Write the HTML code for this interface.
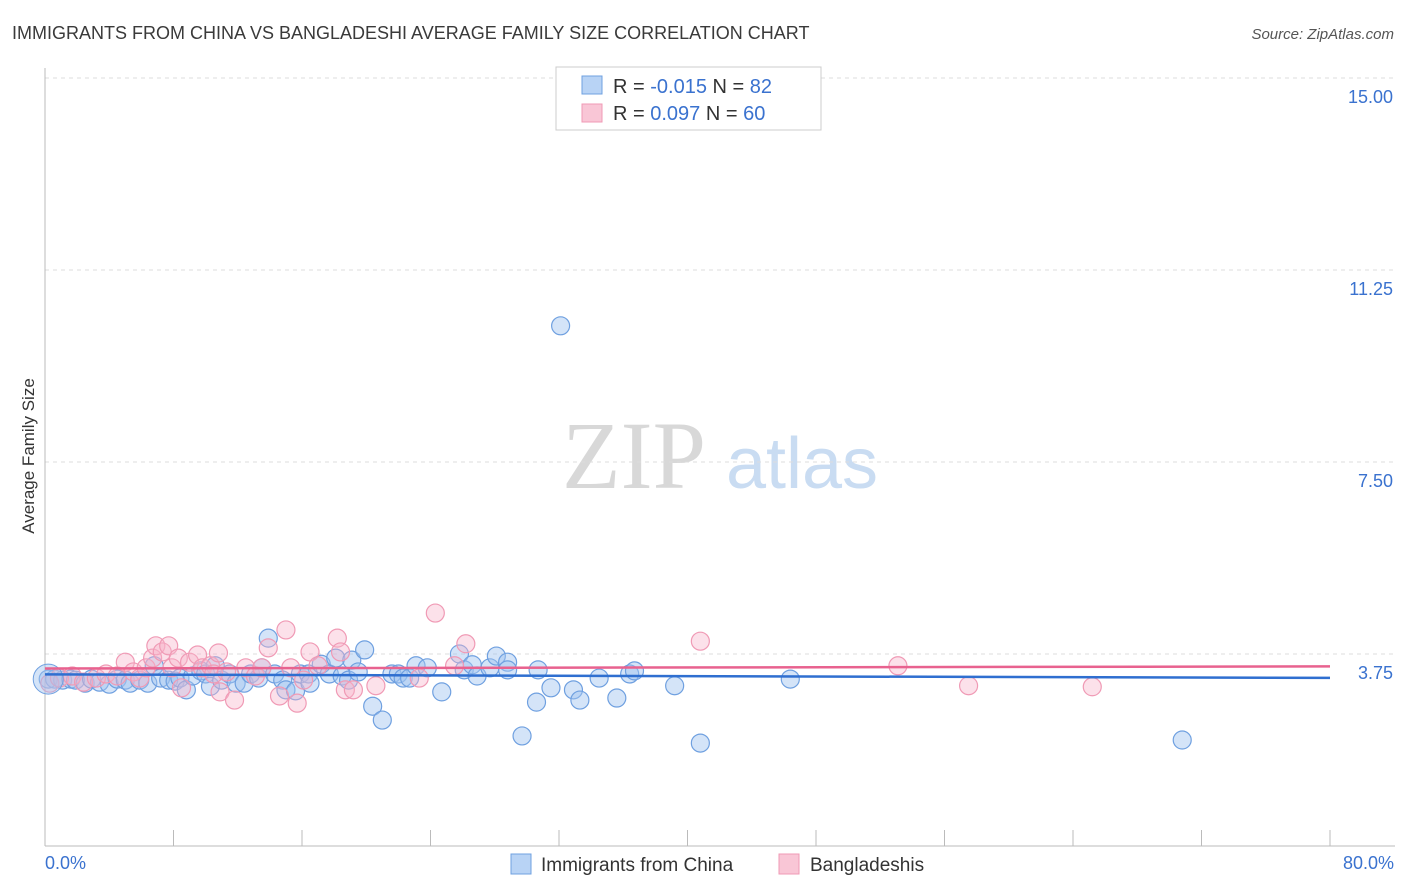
<!DOCTYPE html>
<html><head><meta charset="utf-8"><style>
body{margin:0;background:#fff;font-family:"Liberation Sans",sans-serif}
svg{display:block}
</style></head><body>
<svg id="chart" width="1406" height="892" xmlns="http://www.w3.org/2000/svg" font-family="Liberation Sans, sans-serif">
<text x="12" y="39" font-size="18" fill="#3a3a3a">IMMIGRANTS FROM CHINA VS BANGLADESHI AVERAGE FAMILY SIZE CORRELATION CHART</text>
<text x="1394" y="39" font-size="15" fill="#555" text-anchor="end" font-style="italic">Source: ZipAtlas.com</text>
<g>
<text x="634" y="488" font-size="96" fill="#d8d8d8" text-anchor="middle" font-family="Liberation Serif, serif">ZIP</text>
<text x="802" y="488" font-size="72" fill="#c9dcf2" text-anchor="middle">atlas</text>
</g>
<g id="grid"></g>
<g id="axes"></g>
<g id="marks"></g>
<text transform="translate(34,456) rotate(-90)" font-size="17" fill="#333" text-anchor="middle">Average Family Size</text>
<g>
<rect x="556" y="67" width="265" height="63" fill="#fff" stroke="#ccc"/>
<rect x="582" y="76" width="20" height="18" fill="#b8d3f5" stroke="#6fa0e0"/>
<text x="613" y="93" font-size="20" fill="#333">R = <tspan fill="#3a72cf">-0.015</tspan>   N = <tspan fill="#3a72cf">82</tspan></text>
<rect x="582" y="104" width="20" height="18" fill="#f9c6d6" stroke="#f09ab5"/>
<text x="613" y="120" font-size="20" fill="#333">R =  <tspan fill="#3a72cf">0.097</tspan>   N = <tspan fill="#3a72cf">60</tspan></text>
</g>
<g>
<rect x="511" y="854" width="20" height="20" fill="#b8d3f5" stroke="#6fa0e0"/>
<text x="541" y="871" font-size="19" fill="#333">Immigrants from China</text>
<rect x="779" y="854" width="20" height="20" fill="#f9c6d6" stroke="#f09ab5"/>
<text x="810" y="871" font-size="19" fill="#333">Bangladeshis</text>
</g>
</svg>
<script>
const chinaX=[0.2,0.6,1.1,1.6,1.9,2.5,2.9,3.4,4.0,4.5,5.0,5.3,5.9,6.4,6.8,7.2,7.7,8.1,8.4,8.8,9.2,9.7,10.0,10.3,10.6,11.0,11.5,11.9,12.4,12.8,13.3,13.5,13.9,14.3,14.8,15.0,15.6,15.9,16.4,16.5,17.2,17.7,18.1,18.5,18.9,19.1,19.5,19.9,20.4,21.0,21.6,22.0,22.3,22.7,23.1,23.8,24.7,25.8,26.1,26.6,26.9,27.7,28.1,28.8,28.8,29.7,30.6,30.7,31.5,32.1,32.9,33.3,34.5,35.6,36.4,36.7,39.2,40.8,46.4,70.8];
const chinaY=[3.26,3.26,3.24,3.26,3.24,3.18,3.26,3.20,3.16,3.26,3.24,3.18,3.24,3.18,3.52,3.28,3.24,3.22,3.28,3.05,3.32,3.42,3.36,3.12,3.52,3.24,3.36,3.18,3.18,3.36,3.28,3.48,4.06,3.36,3.24,3.05,3.03,3.36,3.36,3.18,3.55,3.36,3.67,3.32,3.24,3.63,3.40,3.83,2.73,2.46,3.36,3.36,3.28,3.28,3.52,3.48,3.01,3.75,3.44,3.54,3.32,3.48,3.71,3.59,3.44,2.15,2.81,3.44,3.09,10.16,3.05,2.85,3.28,2.89,3.36,3.42,3.13,2.01,3.26,2.07];
const banglaX=[0.3,0.9,1.7,2.4,3.2,3.8,4.5,5.0,5.5,5.9,6.3,6.7,6.9,7.3,7.7,7.9,8.3,8.5,9.0,9.5,9.8,10.3,10.5,10.8,10.9,11.3,11.8,12.5,13.1,13.5,13.9,14.6,15.0,15.3,15.7,16.1,16.5,17.0,18.2,18.4,18.7,19.2,20.6,23.3,24.3,25.5,26.2,40.8,53.1,57.5,65.2];
const banglaY=[3.18,3.28,3.32,3.20,3.28,3.36,3.32,3.59,3.40,3.28,3.48,3.67,3.91,3.79,3.91,3.48,3.67,3.09,3.59,3.73,3.48,3.52,3.36,3.77,3.01,3.40,2.85,3.48,3.32,3.48,3.87,2.93,4.22,3.48,2.79,3.24,3.79,3.52,4.06,3.79,3.05,3.05,3.13,3.28,4.55,3.52,3.95,4.00,3.52,3.13,3.11,3.63];
const yTicks=[3.75,7.5,11.25,15];
const yTickLabels=["3.75","7.50","11.25","15.00"];
const xMax=80,yMax=15;
const L=45,R=1330,T=78,B=846;
const sx=v=>L+v/xMax*(R-L), sy=v=>B-v/yMax*(B-T);
const NS="http://www.w3.org/2000/svg";
function mk(tag,attrs,parent){const e=document.createElementNS(NS,tag);for(const k in attrs)e.setAttribute(k,attrs[k]);parent.appendChild(e);return e;}
const grid=document.getElementById('grid'),axes=document.getElementById('axes'),marks=document.getElementById('marks');
yTicks.forEach((t,i)=>{
 const g=mk('line',{x1:L,x2:1395,y1:sy(t),y2:sy(t),stroke:'#ddd','stroke-dasharray':'4,4'},grid);
 
 
 const tx=mk('text',{x:1393,y:sy(t)+25,'font-size':18,fill:'#3a72cf','text-anchor':'end'},axes);
 tx.textContent=yTickLabels[i];
 
 
});
mk('line',{x1:L,x2:L,y1:68,y2:846,stroke:'#bbb'},axes);
mk('line',{x1:L,x2:1395,y1:846,y2:846,stroke:'#bbb'},axes);
for(let i=1;i<=10;i++){const l=mk('line',{x1:sx(i*8),x2:sx(i*8),y1:830,y2:846,stroke:'#bbb'},axes);
 
 }
const x0=mk('text',{x:45,y:869,'font-size':18,fill:'#3a72cf'},axes);x0.textContent='0.0%';


const x1=mk('text',{x:1394,y:869,'font-size':18,fill:'#3a72cf','text-anchor':'end'},axes);x1.textContent='80.0%';


function fit(xs,ys){const n=xs.length;let mx=0,my=0;for(let i=0;i<n;i++){mx+=xs[i];my+=ys[i];}mx/=n;my/=n;let a=0,b=0;for(let i=0;i<n;i++){a+=(xs[i]-mx)*(ys[i]-my);b+=(xs[i]-mx)**2;}const s=a/b;return [my-s*mx,s];}
function series(xs,ys,fill,stroke,name){
 xs.forEach((x,i)=>{const c=mk('circle',{cx:sx(x),cy:sy(ys[i]),r:9,fill:fill,stroke:stroke,'stroke-width':1.2},marks);
  
  });
}
series(chinaX,chinaY,'rgba(160,196,240,0.45)','#6fa0e0','china');
series(banglaX,banglaY,'rgba(247,180,202,0.4)','#f09ab5','bangladeshi');
const big=mk('circle',{cx:sx(0.2),cy:sy(3.26),r:15,fill:'rgba(160,196,240,0.45)',stroke:'#6fa0e0'},marks);


[[chinaX,chinaY,'#2f6fd0','china-trend-line'],[banglaX,banglaY,'#e8628f','bangladeshi-trend-line']].forEach(([xs,ys,c,n])=>{
 const [a,s]=fit(xs,ys);const l=mk('line',{x1:sx(0),y1:sy(a),x2:sx(80),y2:sy(a+s*80),stroke:c,'stroke-width':2.5},marks);
 
 
});
</script>
</body></html>
